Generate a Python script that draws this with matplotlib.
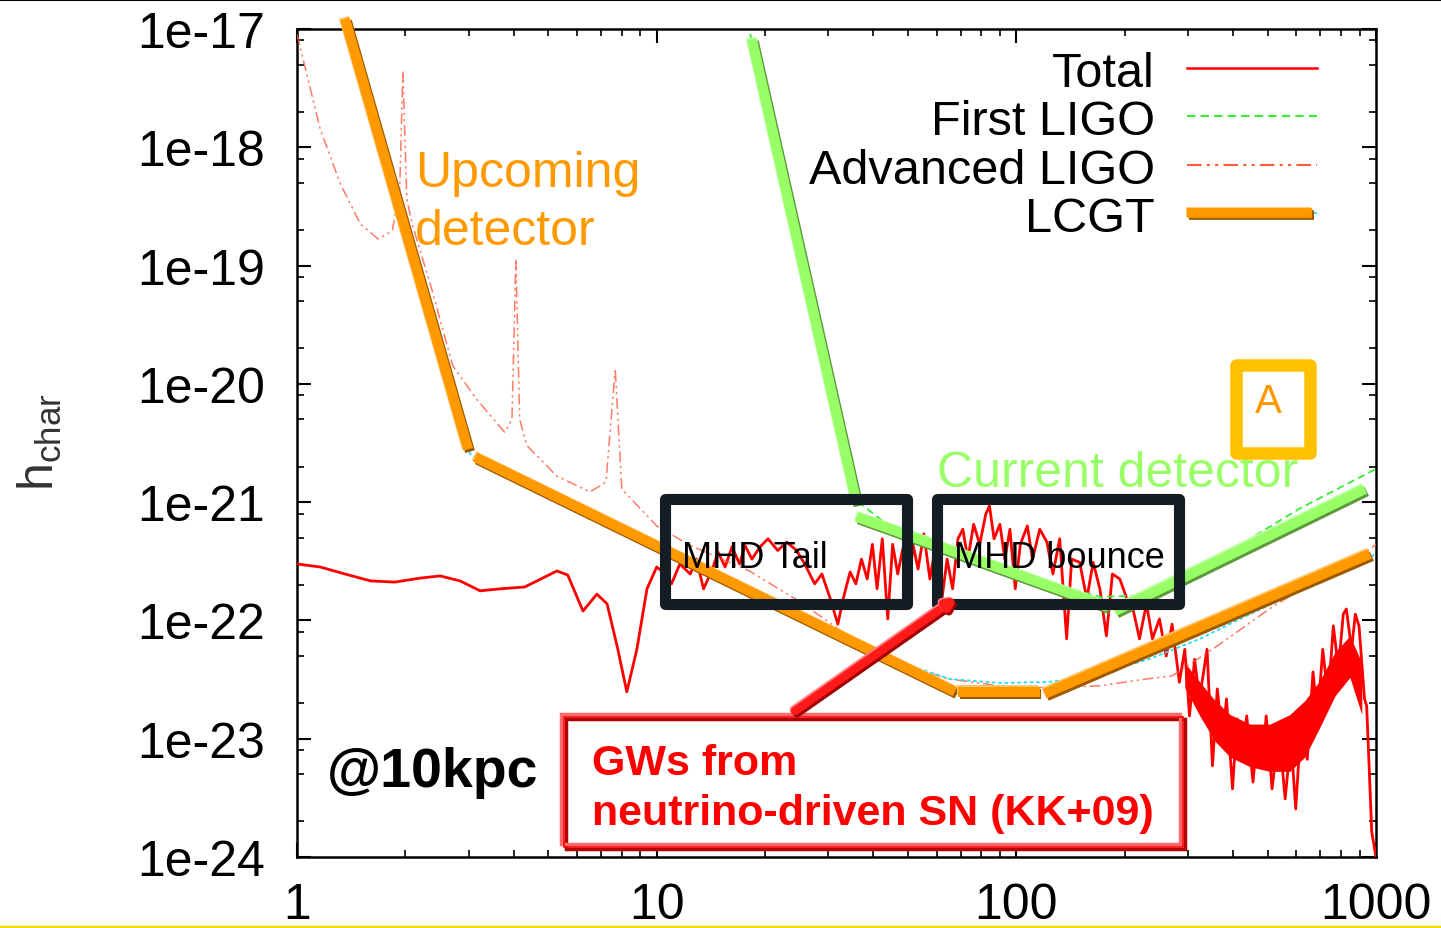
import matplotlib
matplotlib.use("Agg")
import matplotlib.pyplot as plt
import matplotlib.patheffects as pe
from matplotlib.lines import Line2D
from matplotlib.patches import Rectangle
from matplotlib.ticker import FixedLocator, LogLocator, FuncFormatter, NullFormatter
import numpy as np

plt.rcParams['font.family'] = ['Liberation Sans', 'DejaVu Sans']

# total GW spectrum, neutrino-driven SN (KK+09) at 10 kpc
total_f = [1.00, 1.16, 1.36, 1.60, 1.87, 2.20, 2.50, 2.84, 3.23, 3.67, 4.30, 4.89, 5.28, 5.66,
           6.24, 6.82, 7.28, 7.80, 8.26, 8.81, 9.40, 10.0,
           10.6, 11.0, 11.6, 12.4, 12.9, 13.5, 14.3, 14.8, 15.5, 16.2, 17.0, 17.6, 18.4, 19.4,
           20.4, 21.7, 23.0, 24.5, 25.8, 27.5, 28.8, 30.4, 31.9, 33.0, 34.5, 35.8, 37.1, 38.5,
           39.8, 41.0, 42.4, 43.9, 45.3, 46.8, 48.3, 50.0, 51.6, 53.3, 55.3, 57.5, 59.7, 62.1,
           64.2, 66.5, 68.8, 71.0, 73.3, 76.1, 79.1, 82.2, 84.2, 86.7, 90.0, 92.9, 96.0, 99.3,
           102.6, 107.3, 110.9, 116.2, 121.6, 126.4, 132, 138, 142.5, 150, 157, 163.5, 170.7,
           178, 185, 194, 203, 211, 220, 230, 239, 250, 261, 271, 284, 294, 303, 313, 323, 339,
           351, 362, 374, 384, 399, 411, 424, 437, 455, 469, 483, 495, 514, 537, 559, 580, 598,
           620, 644, 668, 688, 711, 736, 761, 786, 811, 827, 855, 876, 897, 929, 942, 955, 973,
           1000]
total_h = [3.0e-22, 2.83e-22, 2.47e-22, 2.16e-22, 2.11e-22, 2.28e-22, 2.38e-22, 2.16e-22,
           1.78e-22, 1.85e-22, 1.92e-22, 2.33e-22, 2.62e-22, 2.42e-22, 1.2e-22, 1.67e-22,
           1.38e-22, 5.7e-23, 2.49e-23, 5.7e-23, 1.85e-22, 2.83e-22,
           2.47e-22, 2.04e-22, 3.0e-22, 2.47e-22, 3.3e-22, 1.85e-22, 2.72e-22, 3.8e-22, 2.83e-22,
           4.2e-22, 3.0e-22, 4.3e-22, 3.3e-22, 4.2e-22, 4.9e-22, 3.9e-22, 4.6e-22, 3.9e-22,
           3.0e-22, 2.04e-22, 2.47e-22, 1.52e-22, 9.3e-23, 1.52e-22, 2.57e-22, 2.04e-22, 3.3e-22,
           2.24e-22, 4.4e-22, 1.85e-22, 4.9e-22, 1.03e-22, 4.4e-22, 2.47e-22, 4.0e-22, 1.52e-22,
           4.4e-22, 2.72e-22, 5.4e-22, 2.24e-22, 4.4e-22, 1.52e-22, 3.3e-22, 1.85e-22, 4.9e-22,
           5.9e-22, 3.3e-22, 6.5e-22, 4.4e-22, 7.9e-22, 9.3e-22, 4.9e-22, 6.5e-22, 3.3e-22,
           5.9e-22, 1.85e-22, 4.4e-22, 6.3e-22, 3.3e-22, 5.9e-22, 4.6e-22, 2.47e-22, 4.9e-22,
           7.0e-23, 3.3e-22, 3.1e-22, 1.52e-22, 3.1e-22, 1.85e-22, 7.4e-23, 2.47e-22, 2.24e-22,
           1.52e-22, 1.25e-22, 7.0e-23, 1.38e-22, 7.0e-23, 1.03e-22, 5.0e-23, 9.3e-23, 3.0e-23,
           5.7e-23, 1.56e-23, 4.7e-23, 2.17e-23, 5.7e-23, 5.9e-24, 2.64e-23, 1.0e-23, 2.17e-23,
           3.77e-24, 1.47e-23, 6.7e-24, 1.56e-23, 4.3e-24, 1.21e-23, 5.6e-24, 1.56e-23, 3.77e-24,
           1.21e-23, 3.1e-24, 1.0e-23, 2.55e-24, 1.47e-23, 6.7e-24, 3.67e-23, 1.47e-23, 5.7e-23,
           2.17e-23, 9.0e-23, 3.9e-23, 1.13e-22, 1.25e-22, 5.7e-23, 1.13e-22, 9.0e-23, 2.17e-23,
           1.9e-23, 6.7e-24, 1.63e-24, 1.0e-24]

# dense core of the high-frequency part of the total spectrum
core_f = [294, 324, 357, 393, 446, 507, 576, 634, 698, 769, 846, 913]
core_hi = [4.4e-23, 3.0e-23, 2.1e-23, 1.6e-23, 1.33e-23, 1.33e-23, 1.6e-23, 2.1e-23,
           3.1e-23, 5.4e-23, 7.4e-23, 4.4e-23]
core_lo = [2.7e-23, 1.55e-23, 9.5e-24, 7.0e-24, 5.8e-24, 5.3e-24, 5.3e-24, 7.0e-24,
           1.25e-23, 2.3e-23, 3.3e-23, 1.6e-23]

# detector sensitivity curves
ligo_f = [18.2, 25.0, 35.5, 47.3, 90, 171, 235, 324, 446, 612, 1000]
ligo_h = [9.1e-18, 1.38e-19, 1.06e-21, 5.4e-22, 2.72e-22, 1.58e-22, 1.64e-22, 2.62e-22,
          4.9e-22, 8.8e-22, 1.91e-21]

aligo_f = [1.00, 1.16, 1.32, 1.50, 1.68, 1.84, 1.93, 1.97, 2.02, 2.09, 2.37, 2.71, 3.16, 3.78,
           3.96, 4.06, 4.16, 4.36, 5.28, 6.53, 7.23, 7.67, 8.0, 10.0, 12.4, 18.2, 25, 35, 47,
           65, 90, 123, 170, 230, 271, 351, 520, 960, 1000]
aligo_h = [9e-18, 1.43e-18, 4.9e-19, 2.25e-19, 1.68e-19, 1.96e-19, 4.4e-19, 4.4e-18, 3.65e-19,
           2.25e-19, 6.3e-20, 1.42e-20, 7.4e-21, 3.9e-21, 5e-21, 1.14e-19, 5e-21, 3.0e-21,
           1.66e-21, 1.22e-21, 1.48e-21, 1.34e-20, 1.29e-21, 6.3e-22, 4.3e-22, 2.6e-22, 1.44e-22,
           7.0e-23, 4.3e-23, 3.2e-23, 2.8e-23, 2.7e-23, 2.8e-23, 3.2e-23, 3.4e-23, 5.7e-23,
           1.33e-22, 4.0e-22, 4.4e-22]

lcgt_f = [1.40, 3.03, 3.23, 5.05, 9.6, 18.2, 34.4, 47.3, 65.3, 90, 123.5, 170.7, 235, 324,
          446, 612, 1000]
lcgt_h = [8.2e-18, 2.55e-21, 2.19e-21, 1.13e-21, 4.4e-22, 1.77e-22, 7.0e-23, 4.46e-23, 3.2e-23,
          2.96e-23, 3.02e-23, 3.53e-23, 4.73e-23, 7.0e-23, 1.13e-22, 1.77e-22, 3.65e-22]

# hand-drawn envelopes: (start, end) of each segment
upcoming_f = [(1.36, 2.99), (3.13, 67.5), (68.9, 116), (120, 962)]
upcoming_h = [(1.22e-17, 2.8e-21), (2.4e-21, 2.5e-23), (2.5e-23, 2.5e-23), (2.4e-23, 3.65e-22)]
current_f = [(18.4, 36.0), (36.0, 180), (188, 931)]
current_h = [(8.2e-18, 9.7e-22), (7.5e-22, 1.3e-22), (1.2e-22, 1.29e-21)]

x_ticks = [1, 10, 100, 1000]
y_ticks = [1e-24, 1e-23, 1e-22, 1e-21, 1e-20, 1e-19, 1e-18, 1e-17]
legend_labels = ['Total', 'First LIGO', 'Advanced LIGO', 'LCGT']


def bevel(dark, light):
    return [pe.SimpleLineShadow(offset=(1.4, -1.7), shadow_color=dark, alpha=1.0),
            pe.SimpleLineShadow(offset=(-0.9, 1.0), shadow_color=light, alpha=1.0),
            pe.Normal()]


orange_fx = bevel('#9c5a00', '#ffc46a')
green_fx = bevel('#5c9a3c', '#c4ffaa')

fig = plt.figure(figsize=(14.41, 9.29), dpi=100)
ax = fig.add_axes([0.2061, 0.0764, 0.7488, 0.8913])
ax.set_xscale('log')
ax.set_yscale('log')
ax.set_xlim(1, 1000)
ax.set_ylim(1e-24, 1e-17)

ax.fill_between(core_f, core_lo, core_hi, color='#ff0000', lw=0, zorder=3)
ax.plot(total_f, total_h, color='#ff0000', lw=2.0, zorder=3)
ax.plot(ligo_f, ligo_h, color='#33ee33', lw=1.3, ls=(0, (4, 2.5)), zorder=3)
ax.plot(aligo_f, aligo_h, color='#ff5a3c', lw=1.1, ls=(0, (7, 2.5, 1.5, 2.5, 1.5, 2.5)),
        alpha=0.8, zorder=3)
ax.plot(lcgt_f, lcgt_h, color='#22e0f0', lw=1.3, ls=(0, (2, 1.5)), zorder=3)

for fs, hs in zip(upcoming_f, upcoming_h):
    ax.plot(fs, hs, color='#ff9900', lw=7.2, solid_capstyle='butt', clip_on=False,
            path_effects=orange_fx, zorder=5)
for fs, hs in zip(current_f, current_h):
    ax.plot(fs, hs, color='#99ff66', lw=7.2, solid_capstyle='butt', clip_on=False,
            path_effects=green_fx, zorder=5)

# axes styling
ax.xaxis.set_major_locator(FixedLocator(x_ticks))
ax.yaxis.set_major_locator(FixedLocator(y_ticks))
ax.xaxis.set_minor_locator(LogLocator(base=10, subs=np.arange(2, 10), numticks=20))
ax.yaxis.set_minor_locator(LogLocator(base=10, subs=(2, 5, 8), numticks=20))
ax.xaxis.set_major_formatter(FuncFormatter(lambda v, p: f'{v:g}'))
ax.yaxis.set_major_formatter(FuncFormatter(lambda v, p: f'1e{int(round(np.log10(v)))}'))
ax.xaxis.set_minor_formatter(NullFormatter())
ax.yaxis.set_minor_formatter(NullFormatter())
ax.tick_params(which='both', direction='in', top=True, right=True, colors='black')
ax.tick_params(which='major', length=10, width=1.5, labelsize=36)
ax.tick_params(which='minor', length=5, width=1.2)
ax.tick_params(axis='x', pad=18)
ax.tick_params(axis='y', pad=23)
for s in ax.spines.values():
    s.set_linewidth(1.8)

fig.text(0.028, 0.524, r'$\mathregular{h_{char}}$', rotation=90, fontsize=36,
         color='#333333', ha='center', va='center')

# legend drawn by hand: right-justified labels, samples on the right
leg_base = [0.9312, 0.8732, 0.814, 0.756]
leg_mid = [0.9529, 0.8949, 0.8357, 0.7778]
for lab, yb in zip(legend_labels, leg_base):
    ax.text(0.7952, yb, lab, transform=ax.transAxes, ha='right', va='baseline',
            fontsize=35, color='black', zorder=8)
x0, x1 = 0.8248, 0.9453
ax.plot([x0, x1], [leg_mid[0]] * 2, transform=ax.transAxes, color='#ff0000', lw=1.8)
ax.plot([x0, x1], [leg_mid[1]] * 2, transform=ax.transAxes, color='#33ee33', lw=1.5,
        ls=(0, (4, 2.5)))
ax.plot([x0, x1], [leg_mid[2]] * 2, transform=ax.transAxes, color='#ff5a3c', lw=1.5,
        ls=(0, (7, 2.5, 1.5, 2.5, 1.5, 2.5)))
ax.plot([x0, x1], [leg_mid[3]] * 2, transform=ax.transAxes, color='#22e0f0', lw=1.3,
        ls=(0, (2, 1.5)))
ax.plot([x0, 0.941], [leg_mid[3]] * 2, transform=ax.transAxes, color='#ff9900', lw=7,
        solid_capstyle='butt', path_effects=orange_fx, zorder=6)

# annotations
ax.text(0.1094, 0.8104, 'Upcoming', transform=ax.transAxes, fontsize=36, color='#ff9900',
        zorder=7)
ax.text(0.1094, 0.7403, 'detector', transform=ax.transAxes, fontsize=36, color='#ff9900',
        zorder=7)
ax.text(0.5931, 0.4481, 'Current detector', transform=ax.transAxes, fontsize=36,
        color='#99ff66', zorder=7)

for bx, label in [(0.3411, 'MHD Tail'), (0.5931, 'MHD bounce')]:
    ax.add_patch(Rectangle((bx, 0.3056), 0.2245, 0.1268, transform=ax.transAxes, fill=False,
                           lw=8, edgecolor='#141c24', joinstyle='round', zorder=9))
    ax.text(bx + 0.016, 0.3502, label, transform=ax.transAxes, fontsize=26, color='black',
            zorder=9)

ax.add_patch(Rectangle((0.8703, 0.4879), 0.0685, 0.1063, transform=ax.transAxes,
                       facecolor='white', lw=9, edgecolor='#ffc000', joinstyle='round',
                       zorder=9))
ax.text(0.9, 0.5507, 'A', transform=ax.transAxes, fontsize=29, color='#ff9900', ha='center',
        va='center', zorder=10)

ax.text(0.0278, 0.0857, '@10kpc', transform=ax.transAxes, fontsize=40, fontweight='bold',
        color='black', zorder=7)

ax.add_patch(Rectangle((0.2493, 0.0097), 0.5737, 0.157, transform=ax.transAxes,
                       facecolor='white', lw=2.5, edgecolor='#b00000', zorder=9))
ax.add_patch(Rectangle((0.2447, 0.0157), 0.5737, 0.157, transform=ax.transAxes,
                       fill=False, lw=2.5, edgecolor='#ff6a6a', zorder=9))
ax.add_patch(Rectangle((0.2475, 0.0125), 0.5737, 0.157, transform=ax.transAxes,
                       fill=False, lw=1.2, edgecolor='#ff0000', zorder=9))
ax.text(0.2734, 0.1002, 'GWs from', transform=ax.transAxes, fontsize=31, fontweight='bold',
        color='#ff0000', zorder=10)
ax.text(0.2734, 0.0399, 'neutrino-driven SN (KK+09)', transform=ax.transAxes, fontsize=31,
        fontweight='bold', color='#ff0000', zorder=10)

ax.annotate('', xy=(0.6126, 0.314), xytext=(0.4615, 0.1763), xycoords='axes fraction',
            arrowprops=dict(arrowstyle='-|>', lw=6, color='#ff1a1a', mutation_scale=12,
                            shrinkA=0, shrinkB=0, path_effects=bevel('#a00000', '#ff8080')),
            zorder=10)

# frame lines at the top and bottom of the slide
fig.add_artist(Line2D([0, 1], [0.999, 0.999], transform=fig.transFigure, color='black', lw=1.5))
fig.add_artist(Line2D([0, 1], [0.0015, 0.0015], transform=fig.transFigure, color='#f0e000',
                      lw=2.5))

fig.savefig('out.png', dpi=100)
